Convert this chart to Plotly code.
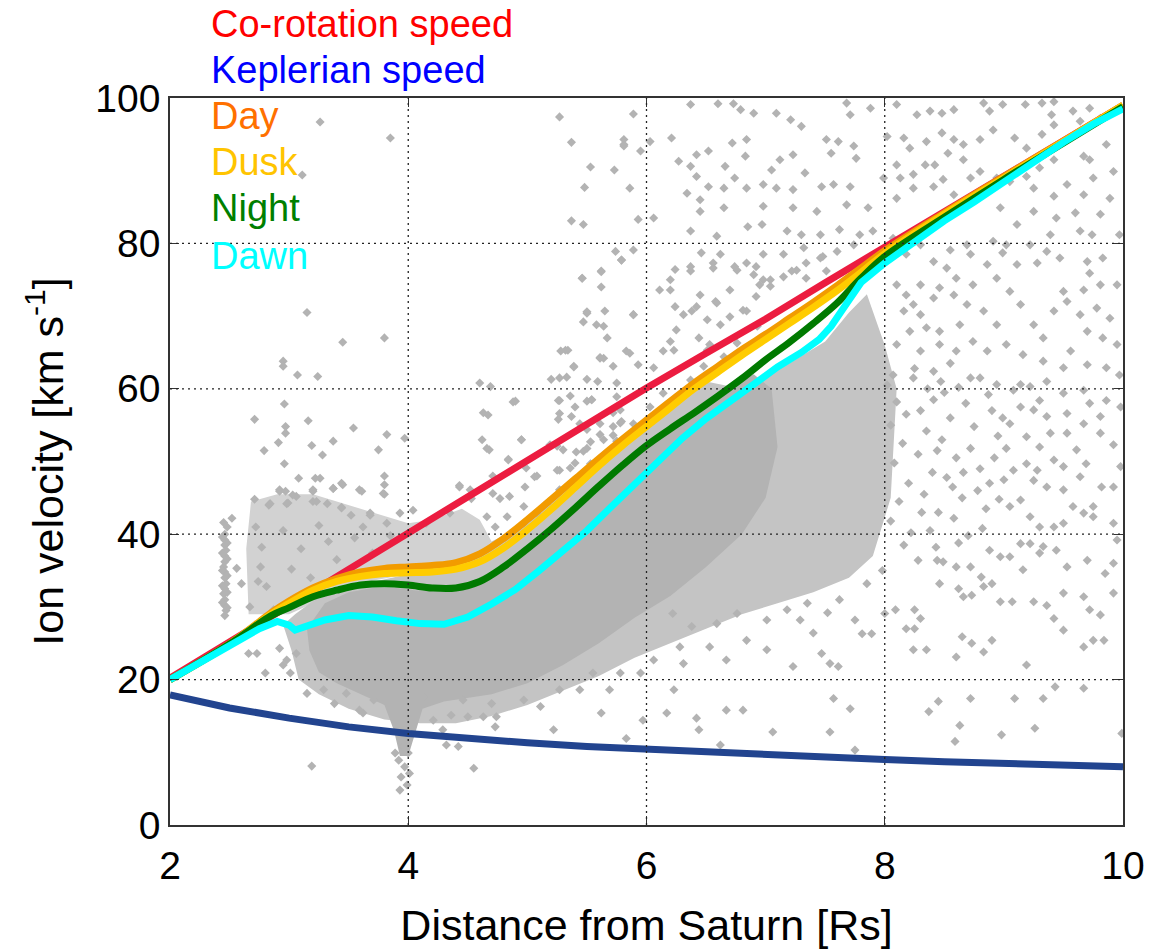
import plotly.graph_objects as go

# ---------------- line data ----------------
r_grid = [2.0, 2.5, 3.0, 3.5, 4.0, 4.5, 5.0, 5.5, 6.0, 6.5, 7.0, 7.5, 8.0, 8.5, 9.0, 9.5, 10.0]
corot_v = [20.2, 25.2, 30.1, 35.1, 40.1, 45.1, 50.2, 55.2, 60.1, 64.9, 69.6, 74.6, 79.5, 84.4, 89.3, 94.2, 99.0]
kepler_v = [17.9, 16.1, 14.7, 13.5, 12.6, 11.9, 11.3, 10.8, 10.4, 10.0, 9.6, 9.3, 9.0, 8.7, 8.5, 8.2, 8.0]

lt_r = [2.0, 2.5, 2.85, 3.0, 3.2, 3.4, 3.6, 3.8, 4.0, 4.2, 4.4, 4.6, 4.8, 5.0, 5.2, 5.4, 5.6, 5.8,
        6.0, 6.2, 6.4, 6.6, 6.8, 7.0, 7.2, 7.4, 7.6, 7.8, 8.0, 8.5, 9.0, 9.5, 10.0]
day_v = [20.0, 24.9, 29.2, 30.8, 32.6, 33.9, 34.8, 35.3, 35.5, 35.7, 36.1, 37.3, 39.4, 42.0, 44.8, 47.6, 50.4, 53.1,
         55.7, 58.3, 60.8, 63.1, 65.4, 67.5, 69.7, 71.9, 74.2, 76.6, 79.0, 84.2, 89.2, 94.1, 99.0]
dusk_v = [20.0, 24.9, 29.0, 30.5, 32.3, 33.5, 34.2, 34.6, 34.7, 34.8, 35.2, 36.2, 38.1, 40.6, 43.4, 46.4, 49.4, 52.2,
          54.8, 57.4, 60.0, 62.3, 64.6, 66.8, 69.0, 71.2, 73.5, 76.0, 78.6, 84.0, 89.0, 94.0, 99.0]
night_v = [20.0, 24.9, 28.8, 29.9, 31.4, 32.3, 33.0, 33.2, 33.0, 32.6, 32.6, 33.5, 35.5, 38.0, 40.7, 43.6, 46.6, 49.5,
           52.2, 54.5, 56.7, 59.0, 61.4, 64.0, 66.4, 69.0, 71.8, 75.2, 78.2, 83.6, 88.8, 93.8, 98.8]

dawn_r = [2.0, 2.25, 2.5, 2.75, 2.9, 3.0, 3.05, 3.15, 3.3, 3.5, 3.7, 3.9, 4.1, 4.3, 4.5, 4.7, 4.9, 5.1, 5.3, 5.5,
          5.7, 5.9, 6.1, 6.3, 6.5, 6.7, 6.9, 7.1, 7.3, 7.45, 7.55, 7.65, 7.8, 8.0, 8.25, 8.5, 8.75, 9.0, 9.25,
          9.5, 9.75, 10.0]
dawn_v = [20.0, 22.4, 24.8, 27.0, 28.0, 27.5, 26.8, 27.3, 28.2, 28.8, 28.6, 28.1, 27.7, 27.6, 28.6, 30.4, 32.4, 35.0,
          37.6, 40.5, 43.7, 46.8, 50.0, 53.2, 55.9, 58.4, 60.6, 63.0, 65.0, 66.8, 68.6, 71.0, 74.6, 77.3, 80.2,
          83.1, 85.7, 88.4, 91.3, 93.9, 96.4, 98.5]

# ---------------- density envelopes of the data cloud ----------------
core_r = [3.15, 3.3, 3.5, 3.7, 3.9, 4.1, 4.3, 4.5, 4.7, 4.9, 5.1, 5.3, 5.5, 5.7, 5.9, 6.1, 6.3, 6.5, 6.7, 6.9,
          7.05, 7.1, 7.0, 6.8, 6.5, 6.2, 5.9, 5.6, 5.3, 5.0, 4.7, 4.5, 4.3, 4.12, 4.05, 4.0, 3.93,
          3.88, 3.8, 3.6, 3.4, 3.25, 3.17]
core_v = [27.0, 30.5, 32.0, 32.6, 32.6, 32.2, 32.2, 32.8, 34.5, 36.5, 39.0, 42.0, 45.0, 48.0, 51.0, 53.5, 56.0, 58.5,
          60.5, 62.0, 60.0, 52.0, 45.0, 40.0, 35.5, 31.5, 28.5, 25.0, 22.0, 19.5, 18.0, 17.5, 17.0,
          16.0, 12.0, 9.5, 9.5, 13.0, 16.5, 18.0, 19.5, 21.0, 24.0]

mid_r = [3.05, 3.3, 4.0, 4.5, 4.7, 5.0, 5.5, 6.0, 6.5, 6.8, 7.2, 7.5, 7.7,
         7.85, 8.0, 8.1, 8.05, 7.9, 7.7, 7.4, 7.1, 6.8, 6.5, 6.2, 5.9, 5.6, 5.3, 5.0, 4.7, 4.4, 4.1, 3.8,
         3.5, 3.25, 3.08, 3.02, 2.95]
mid_v = [29.0, 32.0, 34.5, 36.0, 39.0, 41.5, 48.5, 55.0, 61.0, 60.0, 63.5, 66.5, 70.5,
         73.0, 66.0, 60.0, 45.0, 37.0, 34.0, 32.0, 30.5, 29.0, 27.0, 25.0, 23.0, 20.5, 18.5,
         16.5, 15.0, 14.0, 14.0, 14.5, 16.0, 18.0, 20.0, 24.0, 27.5]

sparse_r = [2.66, 2.64, 2.68, 2.9, 3.2, 3.5, 3.8, 4.0, 4.2, 4.45, 4.6, 4.7, 4.5, 4.0, 3.5, 3.2, 3.0]
sparse_v = [29.0, 38.0, 44.5, 45.5, 45.5, 44.0, 42.5, 41.5, 42.0, 43.5, 42.0, 39.0, 36.0, 34.5, 33.0, 30.5, 29.0]

# ---------------- individual data points ----------------
pts_streak = [(2.46, 40.0), (2.46, 39.2), (2.46, 38.5), (2.47, 37.8), (2.46, 37.0), (2.46, 36.2), (2.45, 35.5),
              (2.46, 34.8), (2.46, 34.0), (2.47, 33.2), (2.46, 32.5), (2.45, 31.8), (2.46, 31.0), (2.46, 30.2),
              (2.47, 29.5), (2.46, 28.8), (2.44, 39.6), (2.48, 38.8), (2.44, 37.4), (2.48, 36.6), (2.44, 35.0),
              (2.48, 34.3), (2.44, 32.9), (2.48, 32.0), (2.44, 30.6), (2.48, 29.9), (2.48, 41.0), (2.45, 41.6)]

pts_left = [(2.52, 42.2), (2.56, 35.3), (2.60, 33.2), (2.67, 30.0), (2.76, 35.5), (2.81, 32.8), (2.87, 29.6),
            (2.66, 23.6), (2.80, 20.9), (2.73, 23.6), (2.92, 24.3), (2.95, 22.0), (2.98, 22.7), (3.01, 20.9),
            (3.06, 23.6), (3.15, 18.1), (3.19, 8.1), (3.29, 18.6), (3.38, 16.7), (3.48, 18.1), (3.62, 15.4),
            (3.59, 15.8), (3.71, 17.2), (4.13, 17.6), (4.21, 14.4), (4.32, 11.0), (4.42, 10.8), (4.55, 7.8),
            (4.29, 13.1), (4.36, 15.1), (4.50, 14.9), (4.63, 14.9), (4.73, 13.5), (4.70, 16.7), (4.46, 17.2),
            (3.93, 12.6), (3.96, 10.8), (3.92, 8.9), (3.97, 8.0), (3.94, 6.6), (3.99, 5.5), (3.93, 4.8),
            (4.01, 7.1), (3.89, 9.9), (4.00, 9.9),
            (2.83, 44.0), (2.98, 44.2), (3.20, 44.5), (3.32, 44.2), (3.44, 43.6), (3.52, 42.6), (3.68, 42.6),
            (3.82, 41.5), (2.92, 46.1), (3.03, 45.4), (3.20, 46.1), (3.37, 46.3), (3.44, 47.0), (3.59, 46.1),
            (3.68, 42.9), (3.79, 45.6), (3.93, 42.9), (4.04, 43.3), (4.15, 41.5), (4.35, 42.9), (4.43, 46.5),
            (4.53, 44.9), (4.71, 45.6), (4.83, 42.4), (4.97, 43.8),
            (2.72, 41.0), (2.77, 38.2), (2.74, 33.5), (2.95, 40.5), (3.10, 38.0), (3.25, 41.2), (3.40, 36.5),
            (3.55, 39.5), (3.70, 37.4), (3.85, 39.8), (3.02, 35.2), (3.18, 34.0), (3.33, 39.0), (3.62, 41.0)]

pts_upper_left = [(3.26, 96.7), (3.85, 94.5), (3.11, 89.4), (5.27, 97.4), (5.37, 93.9), (5.81, 94.3), (5.81, 93.4),
                  (5.53, 90.5), (5.73, 90.1), (5.48, 87.7), (5.37, 83.1), (5.47, 82.6), (5.74, 78.9), (5.79, 77.7),
                  (5.46, 75.2), (5.62, 76.2), (5.62, 74.0), (3.15, 70.5), (3.45, 66.4), (3.80, 67.0), (2.95, 63.8),
                  (2.95, 63.1), (3.07, 61.9), (3.24, 61.7), (5.50, 70.4), (5.65, 70.7), (5.47, 69.2), (5.58, 68.8),
                  (5.67, 67.0), (5.28, 65.2), (5.34, 65.3), (5.61, 64.3), (5.64, 64.2), (5.72, 63.1), (5.39, 63.1),
                  (5.20, 61.3), (5.33, 61.6), (5.50, 61.3), (5.59, 61.0), (5.75, 60.8), (4.60, 60.8), (4.69, 60.3),
                  (4.63, 56.7), (4.67, 56.4), (4.90, 58.3), (5.27, 58.4), (5.36, 59.0), (5.50, 58.3), (5.54, 58.5),
                  (5.26, 55.8), (5.37, 56.2), (5.72, 56.7), (5.78, 55.3), (4.62, 53.0), (4.68, 51.6), (4.95, 53.0),
                  (5.19, 52.3), (4.84, 50.3), (2.71, 55.8), (2.96, 57.9), (3.16, 55.6), (2.97, 54.8), (2.97, 53.9),
                  (3.54, 54.6), (3.82, 53.7), (3.97, 53.2), (3.37, 52.8), (2.91, 52.6), (2.79, 51.5), (3.19, 52.2),
                  (3.75, 51.6), (3.28, 50.9), (2.96, 49.7), (4.43, 46.7), (4.52, 46.1), (4.71, 48.0), (3.08, 47.7),
                  (3.22, 47.7), (3.26, 47.7), (3.80, 48.0), (3.80, 46.8), (3.80, 45.5), (3.61, 45.9), (3.45, 46.8),
                  (3.37, 46.3), (2.92, 45.9), (2.97, 45.9), (3.20, 45.9), (3.06, 45.2), (2.71, 44.8), (2.84, 44.2),
                  (3.23, 44.5), (3.44, 43.7), (2.99, 44.3), (4.99, 49.1), (5.08, 48.0), (5.25, 52.1), (5.36, 49.1),
                  (5.47, 51.4), (5.61, 53.7), (5.72, 54.8), (5.75, 52.8)]

pts_band = [(4.88, 58.2), (5.26, 58.4), (4.95, 53.0), (4.66, 51.8), (4.84, 50.2), (5.27, 48.8), (5.06, 47.9),
            (4.98, 46.5), (4.77, 44.9), (4.85, 45.2), (4.66, 42.4), (4.73, 41.0), (5.41, 51.3), (5.53, 52.7),
            (5.44, 55.2), (5.61, 55.2), (5.72, 53.6), (5.34, 46.1), (5.47, 48.4), (5.16, 44.2), (5.08, 42.9),
            (4.97, 41.5), (5.27, 46.1), (5.53, 49.7), (5.78, 57.1), (5.89, 55.2), (5.27, 56.6), (5.40, 57.5),
            (5.46, 75.2), (5.62, 76.1), (5.79, 77.7), (5.50, 70.6), (5.64, 68.6), (5.89, 70.2), (5.32, 65.3),
            (5.61, 64.2), (5.86, 64.9), (5.39, 63.0), (5.27, 61.5), (5.54, 58.5), (5.75, 58.9), (6.03, 57.5),
            (5.79, 55.5), (5.50, 54.4), (5.30, 51.6), (5.25, 48.8), (5.40, 49.8), (5.50, 51.8), (5.64, 53.0),
            (6.14, 59.4), (6.25, 58.5), (6.37, 61.2), (6.48, 63.1), (6.51, 65.3), (6.65, 64.4), (6.76, 66.3),
            (6.93, 68.6), (6.23, 65.3), (6.25, 68.1), (6.42, 71.3), (6.59, 71.8), (6.70, 69.9), (6.81, 70.8),
            (6.92, 72.7), (7.04, 74.1), (7.15, 75.4), (7.26, 76.3), (7.34, 77.3), (7.48, 78.2), (6.11, 73.6),
            (6.20, 75.0), (6.37, 76.8), (6.56, 77.3), (6.76, 76.3), (6.92, 76.8), (6.98, 75.0)]

pts_upper_right = [(5.89, 97.8), (6.37, 99.1), (6.60, 99.2), (6.73, 99.2), (6.79, 98.4), (6.90, 97.9), (7.09, 97.9),
                   (7.21, 97.0), (7.30, 96.1), (7.68, 99.3), (7.71, 97.7), (7.88, 98.6), (5.81, 93.6), (6.03, 94.0),
                   (6.21, 94.5), (5.95, 92.7), (6.27, 91.3), (6.42, 92.2), (6.52, 92.7), (6.37, 90.6), (6.66, 90.6),
                   (6.72, 93.8), (6.84, 94.3), (6.83, 92.0), (7.12, 91.5), (7.23, 92.2), (7.51, 94.3), (7.61, 94.0),
                   (7.74, 93.4), (7.76, 91.7), (7.55, 92.4), (7.33, 89.7), (7.05, 90.1), (6.42, 89.2), (6.74, 89.0),
                   (6.52, 87.8), (6.34, 86.9), (6.65, 87.6), (6.84, 87.6), (6.98, 88.1), (7.09, 87.6), (7.23, 87.4),
                   (7.47, 87.8), (7.57, 88.1), (7.71, 87.8), (5.86, 87.6), (6.06, 83.5), (5.93, 83.3), (6.45, 86.0),
                   (6.45, 84.4), (6.65, 84.9), (6.98, 85.1), (7.23, 84.9), (7.43, 84.4), (7.68, 85.3), (7.86, 84.9),
                   (6.37, 81.7), (6.59, 81.0), (6.85, 82.3), (6.97, 82.6), (7.18, 81.7), (7.30, 81.2), (7.46, 81.2),
                   (7.62, 81.9), (7.79, 81.2), (7.90, 81.7), (5.89, 79.1), (6.46, 78.7), (6.62, 78.5), (6.84, 77.3),
                   (6.98, 78.5), (7.15, 78.5), (7.32, 79.4), (7.46, 78.0), (7.60, 78.9), (7.74, 79.8), (6.24, 76.4),
                   (6.37, 76.2), (6.56, 76.6), (6.74, 76.8), (6.90, 75.7), (7.04, 75.0), (7.22, 76.2), (7.34, 75.2),
                   (7.51, 76.2), (6.20, 73.6), (6.45, 72.9), (6.58, 72.0), (6.70, 73.6), (6.95, 74.3), (6.24, 71.3),
                   (6.38, 70.7), (6.51, 69.5), (6.31, 70.2), (5.89, 70.2), (6.62, 68.8), (6.84, 70.7), (6.14, 65.2),
                   (5.83, 65.2), (6.44, 67.0), (6.53, 66.1), (5.93, 63.3), (6.06, 62.9), (6.20, 66.5),
                   (8.10, 99.1), (8.27, 97.7), (8.38, 98.2), (8.48, 97.9), (8.58, 98.4), (8.83, 99.3), (8.88, 98.2),
                   (8.99, 99.1), (9.18, 99.1), (9.32, 99.3), (9.42, 99.5), (9.58, 98.2), (9.72, 98.6), (9.40, 97.7),
                   (8.02, 94.7), (8.16, 94.5), (8.21, 93.1), (8.35, 94.0), (8.48, 95.2), (8.58, 94.3), (8.66, 93.6),
                   (8.80, 94.3), (8.91, 95.6), (9.09, 94.5), (9.19, 93.1), (9.32, 95.0), (9.42, 96.3), (9.64, 96.8),
                   (9.81, 97.2), (9.86, 93.6), (9.72, 91.5), (9.67, 92.0), (9.42, 91.5), (9.30, 90.4), (9.19, 89.2),
                   (9.05, 88.5), (8.94, 89.0), (8.80, 89.9), (8.66, 91.5), (8.53, 92.4), (8.42, 90.8), (8.34, 90.8),
                   (8.24, 89.5), (8.10, 90.8), (8.13, 89.0), (7.99, 89.0), (8.10, 86.2), (8.24, 87.6), (8.41, 87.8),
                   (8.49, 88.8), (8.58, 86.7), (8.72, 89.0), (9.25, 87.6), (9.42, 86.5), (9.53, 88.1), (9.67, 86.7),
                   (9.75, 89.0), (9.92, 89.9), (9.89, 86.2), (9.81, 84.0), (9.60, 84.2), (9.44, 83.5), (9.25, 84.4),
                   (9.11, 82.6), (8.97, 84.9), (9.39, 81.2), (9.64, 81.7), (9.74, 81.2), (9.97, 81.2), (9.22, 79.8),
                   (9.02, 79.8), (8.91, 80.3), (8.69, 79.8), (8.55, 79.1), (8.30, 79.8), (8.07, 80.7), (8.18, 78.5),
                   (8.41, 77.5), (8.52, 76.6), (8.72, 78.5), (8.86, 77.1), (8.99, 78.7), (9.11, 77.1), (9.28, 77.3),
                   (9.36, 78.9), (9.47, 78.0), (9.70, 77.5), (9.83, 78.0), (9.72, 75.9), (9.50, 73.4), (9.67, 73.6),
                   (9.81, 74.3), (9.95, 74.3), (9.42, 70.7), (9.53, 72.0), (9.64, 70.2), (9.78, 71.1), (9.89, 69.7),
                   (9.70, 67.9), (9.83, 67.0), (9.95, 66.1), (9.56, 65.2), (9.33, 67.0), (9.25, 68.8), (9.14, 71.6),
                   (9.05, 73.4), (8.94, 75.2), (8.74, 74.3), (8.60, 75.2), (8.58, 72.9), (8.46, 73.9), (8.30, 74.3),
                   (8.18, 72.9), (8.10, 74.3), (8.16, 70.7), (8.24, 71.6), (8.30, 70.2), (8.41, 72.5), (8.69, 71.6),
                   (8.83, 70.7), (8.94, 68.8), (8.63, 68.8), (8.46, 67.9), (8.35, 68.4), (8.21, 67.9), (8.10, 66.1),
                   (8.30, 65.2), (8.46, 66.1), (8.60, 65.2), (8.74, 66.5), (8.86, 65.2), (9.02, 66.1), (9.16, 64.7),
                   (9.33, 63.8), (9.50, 62.9), (9.70, 63.3), (9.86, 62.9), (9.97, 61.9), (8.41, 62.4), (8.24, 61.5),
                   (8.07, 61.9), (8.72, 61.5), (8.94, 60.6), (9.14, 60.6), (9.36, 61.0)]

pts_clump = [(8.02, 60.5), (8.10, 58.2), (8.05, 55.0), (8.15, 52.5), (8.08, 49.8), (8.20, 47.0), (8.12, 44.5),
             (8.05, 41.8), (8.22, 40.2), (8.30, 57.0), (8.35, 54.2), (8.28, 51.0), (8.40, 48.5), (8.33, 45.5),
             (8.45, 43.0), (8.38, 40.5), (8.50, 59.5), (8.55, 56.0), (8.48, 53.0), (8.60, 50.5), (8.52, 47.8),
             (8.65, 45.0), (8.58, 42.2), (8.70, 39.8), (8.68, 58.0), (8.75, 54.8), (8.72, 51.8), (8.80, 49.0),
             (8.78, 46.0), (8.85, 43.5), (8.82, 40.8), (8.90, 57.0), (8.95, 53.5), (8.92, 50.5), (9.00, 47.5),
             (8.96, 44.8), (8.47, 61.0), (8.62, 60.2), (8.80, 61.5), (8.41, 58.5), (8.57, 46.5), (8.66, 48.5),
             (8.44, 51.5), (8.31, 43.0), (8.18, 56.5), (8.25, 62.8), (8.36, 60.0), (8.55, 63.5), (8.87, 59.2),
             (8.99, 56.0), (9.02, 51.8), (8.88, 47.0), (8.62, 38.8), (8.43, 38.2), (8.16, 38.5), (8.28, 36.4)]

pts_lower_right = [(7.40, 26.4), (7.47, 23.6), (7.54, 22.2), (7.61, 21.8), (7.57, 17.4), (7.71, 16.0), (7.54, 12.8),
                   (7.75, 10.3), (7.81, 26.3), (7.89, 26.3), (7.75, 28.2), (8.00, 29.1), (8.09, 29.6), (8.18, 27.0),
                   (8.25, 27.0), (8.24, 24.1), (8.35, 24.1), (8.30, 28.4), (8.25, 29.6), (8.37, 15.6), (8.45, 17.0),
                   (8.59, 11.5), (8.63, 13.7), (8.65, 25.9), (8.73, 25.0), (8.60, 23.1), (8.72, 17.4), (8.83, 23.8),
                   (8.90, 25.4), (8.98, 12.4), (9.09, 17.4), (9.19, 22.0), (9.26, 13.3), (9.33, 17.4), (9.43, 19.0),
                   (9.50, 26.8), (9.67, 18.8), (9.67, 24.5), (9.75, 25.4), (9.84, 25.4), (9.99, 12.6), (8.46, 33.2),
                   (8.62, 32.5), (8.66, 31.4), (8.73, 31.6), (8.83, 32.8), (8.90, 33.2), (8.97, 30.7), (9.07, 30.7),
                   (9.16, 35.1), (9.25, 30.7), (9.36, 30.2), (9.42, 28.4), (9.50, 31.9), (9.67, 31.4), (9.72, 29.6),
                   (9.81, 28.9), (9.92, 31.9), (9.85, 34.6), (9.70, 36.4), (9.53, 35.5), (9.44, 37.8), (9.30, 37.4),
                   (9.22, 38.7), (9.14, 38.7), (9.05, 36.9), (8.97, 36.9), (8.88, 37.8), (8.81, 34.1), (8.72, 35.5),
                   (8.60, 35.5), (8.49, 36.2), (8.44, 36.4), (9.92, 36.0), (9.95, 39.2), (9.92, 41.5), (9.75, 42.4),
                   (9.67, 42.9), (9.58, 43.8), (9.50, 41.5), (9.42, 41.0), (9.33, 38.3), (9.30, 41.0), (9.22, 42.4),
                   (9.14, 44.7), (9.05, 43.8), (9.25, 47.4), (9.36, 46.5), (9.50, 46.1), (9.64, 47.9), (9.75, 43.8),
                   (9.82, 46.5), (9.92, 46.5), (9.98, 49.3), (9.92, 52.3), (9.81, 53.9), (9.69, 49.7), (9.61, 51.6),
                   (9.50, 49.3), (9.42, 50.2), (9.28, 48.8), (9.19, 49.7), (9.08, 48.8), (9.30, 52.0), (9.39, 53.9),
                   (9.53, 53.9), (9.67, 55.2), (9.81, 56.2), (9.98, 57.5), (9.86, 58.4), (9.72, 58.0), (9.53, 56.6),
                   (9.36, 56.2), (9.25, 57.1), (9.14, 57.5), (9.05, 55.2), (9.19, 53.4), (9.30, 58.4), (9.50, 59.4),
                   (9.67, 59.8), (9.08, 59.8), (9.22, 60.3)]

pts_lower_mid = [(4.74, 14.9), (5.22, 13.1), (5.62, 15.4), (5.69, 18.6), (5.83, 11.9), (5.97, 14.4), (6.17, 15.4),
                 (6.23, 18.6), (6.42, 14.7), (6.44, 13.1), (6.67, 15.8), (6.81, 15.8), (7.06, 12.8), (6.62, 11.0),
                 (6.31, 22.2), (6.53, 24.5), (6.67, 22.7), (6.84, 25.4), (7.01, 24.1), (7.23, 21.8), (6.38, 27.3),
                 (6.59, 27.7), (6.76, 29.1), (7.01, 28.2), (7.18, 29.6), (7.29, 28.2), (6.22, 29.1), (6.28, 24.5),
                 (6.06, 22.7), (5.95, 20.9), (5.78, 20.9), (5.55, 20.9), (5.44, 18.6), (5.27, 18.6), (5.11, 16.3),
                 (4.97, 17.2), (4.91, 19.9), (7.35, 30.5), (7.62, 31.0), (7.85, 33.2), (7.98, 35.0), (7.52, 29.2)]

point_groups = [pts_streak, pts_left, pts_upper_left, pts_band, pts_upper_right, pts_clump,
                pts_lower_right, pts_lower_mid]

x_ticks = [2, 4, 6, 8, 10]
y_ticks = [0, 20, 40, 60, 80, 100]
grid_x = [4, 6, 8]
grid_y = [20, 40, 60, 80]

GRAY = "#B3B3B3"
FONT = "Liberation Sans, Arial, Helvetica, sans-serif"

fig = go.Figure()

# density envelopes (drawn first)
for xs, vs, col in [(sparse_r, sparse_v, "#D2D2D2"), (mid_r, mid_v, "#C4C4C4"), (core_r, core_v, GRAY)]:
    fig.add_trace(go.Scatter(x=xs + [xs[0]], y=vs + [vs[0]], mode="lines", fill="toself",
                             fillcolor=col, line=dict(width=0, color=col), hoverinfo="skip",
                             showlegend=False))

# individual data points
sx = [p[0] for g in point_groups for p in g]
sy = [p[1] for g in point_groups for p in g]
fig.add_trace(go.Scatter(x=sx, y=sy, mode="markers",
                         marker=dict(symbol="diamond", size=7, color=GRAY, line=dict(width=0)),
                         showlegend=False))

# model / averaged lines
LW = 7
fig.add_trace(go.Scatter(x=r_grid, y=corot_v, mode="lines", line=dict(color="#EC1C40", width=LW), showlegend=False))
fig.add_trace(go.Scatter(x=r_grid, y=kepler_v, mode="lines", line=dict(color="#22448F", width=LW), showlegend=False))
fig.add_trace(go.Scatter(x=lt_r, y=day_v, mode="lines", line=dict(color="#F29B00", width=LW, shape="spline"), showlegend=False))
fig.add_trace(go.Scatter(x=lt_r, y=dusk_v, mode="lines", line=dict(color="#FFCC00", width=LW, shape="spline"), showlegend=False))
fig.add_trace(go.Scatter(x=lt_r, y=night_v, mode="lines", line=dict(color="#007A00", width=LW, shape="spline"), showlegend=False))
fig.add_trace(go.Scatter(x=dawn_r, y=dawn_v, mode="lines", line=dict(color="#00FFFF", width=LW), showlegend=False))

# dotted grid above the data
shapes = []
for gx in grid_x:
    shapes.append(dict(type="line", xref="x", yref="y", x0=gx, x1=gx, y0=0, y1=100, layer="above",
                       line=dict(color="#222222", width=1.3, dash="2px,4px")))
for gy in grid_y:
    shapes.append(dict(type="line", xref="x", yref="y", x0=2, x1=10, y0=gy, y1=gy, layer="above",
                       line=dict(color="#222222", width=1.3, dash="2px,4px")))

# text labels (legend written as coloured text)
labels = [("Co-rotation speed", "#FF0000", 1.1018), ("Keplerian speed", "#0000FF", 1.0385),
          ("Day", "#FF7000", 0.9752), ("Dusk", "#FFC400", 0.9120), ("Night", "#007F00", 0.8487),
          ("Dawn", "#00FFFF", 0.7827)]
annotations = []
for txt, col, yy in labels:
    annotations.append(dict(text=txt, x=0.0405, y=yy, xref="paper", yref="paper", xanchor="left",
                            yanchor="middle", showarrow=False, font=dict(family=FONT, size=38, color=col)))

axis_common = dict(showgrid=False, zeroline=False, showline=True, linecolor="#333333", linewidth=1.5,
                   mirror="allticks", ticks="inside", ticklen=9, tickwidth=1.3, tickcolor="#333333",
                   tickfont=dict(family=FONT, size=39, color="black"), layer="above traces",
                   automargin=False)

fig.update_layout(
    width=1167, height=950,
    margin=dict(l=170, r=44, t=98, b=125),
    paper_bgcolor="white", plot_bgcolor="white",
    xaxis=dict(range=[2, 10], tickvals=x_ticks, ticktext=[str(t) for t in x_ticks], ticklabelstandoff=5,
               title=dict(text="Distance from Saturn [Rs]", font=dict(family=FONT, size=43, color="black"),
                          standoff=24),
               **axis_common),
    yaxis=dict(range=[0, 100], tickvals=y_ticks, ticktext=[str(t) for t in y_ticks],
               title=dict(text="Ion velocity [km s<sup>-1</sup>]", font=dict(family=FONT, size=43, color="black"),
                          standoff=18),
               **axis_common),
    shapes=shapes, annotations=annotations, showlegend=False,
)

fig.write_html("out.html")
